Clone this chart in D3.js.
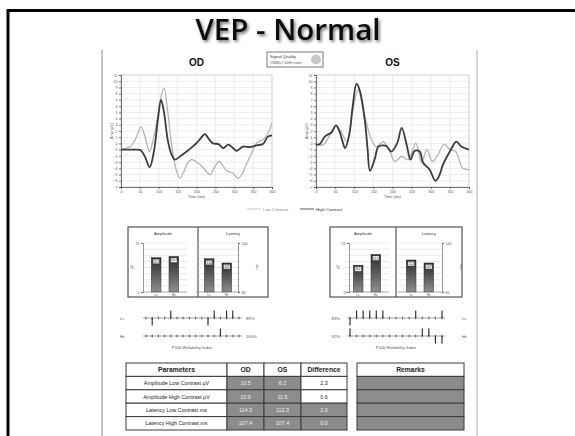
<!DOCTYPE html>
<html>
<head>
<meta charset="utf-8">
<title>VEP - Normal</title>
<style>
  body { margin: 0; background: #fff; }
  svg { display: block; font-family: "Liberation Sans", Arial, sans-serif; }
</style>
</head>
<body>
<svg width="575" height="436"></svg>
<script src="https://cdnjs.cloudflare.com/ajax/libs/d3/7.8.5/d3.min.js"></script>
<script>
// ---- data ----
// waveforms: [time ms, amplitude µV]
var odHigh = [[0,-1.0],[20,-1.0],[40,-1.0],[52,-1.1],[64,-2.2],[76,-3.8],[88,-1.0],[98,4.0],[106,7.0],[114,5.0],[124,0.5],[134,-1.8],[143,-2.6],[158,-2.0],[174,-1.3],[188,-0.6],[200,0.05],[212,0.9],[222,1.5],[234,0.6],[244,0.0],[258,-0.1],[271,-0.75],[284,-0.2],[296,-0.7],[306,-1.2],[323,-0.5],[341,-0.6],[359,-0.3],[376,-0.1],[389,1.1],[400,1.3]];
var odLow = [[0,-0.9],[25,-0.5],[40,0.9],[53,2.7],[64,1.0],[75,-1.3],[84,0.2],[95,3.5],[105,7.2],[114,8.9],[124,5.0],[134,-0.2],[146,-4.2],[156,-5.6],[166,-4.6],[176,-3.2],[187,-2.6],[198,-2.9],[209,-3.4],[222,-4.2],[236,-5.0],[248,-3.8],[260,-2.9],[270,-3.6],[280,-4.4],[297,-4.8],[310,-5.6],[322,-4.8],[332,-3.4],[346,-1.6],[359,0.05],[376,0.6],[389,1.6],[400,3.3]];
var osHigh = [[0,-0.2],[10,-0.1],[23,1.1],[41,1.8],[52,2.9],[61,2.0],[69,0.4],[76,-0.75],[87,1.4],[96,6.0],[106,9.6],[115,8.4],[128,3.5],[135,-1.0],[141,-4.4],[154,-2.4],[163,-0.5],[175,-0.3],[184,-0.4],[197,-1.3],[212,0.0],[224,2.5],[237,-0.2],[247,-2.6],[258,-1.2],[271,-1.3],[280,-3.1],[297,-4.2],[312,-6.0],[322,-5.2],[332,-3.4],[350,-1.3],[367,0.3],[380,-0.5],[400,-1.0]];
var osLow = [[0,-0.2],[19,-0.2],[37,1.4],[52,2.9],[67,1.7],[80,0.3],[97,5.6],[110,8.6],[128,4.3],[145,0.6],[158,-0.5],[176,0.3],[193,-1.3],[206,-2.9],[224,-2.1],[241,-2.6],[261,0.05],[276,-3.1],[290,-1.0],[304,-2.9],[319,-1.8],[335,-0.1],[350,-1.0],[365,-1.3],[384,-4.0],[400,-4.2]];

var timeTicks = [0, 50, 100, 150, 200, 250, 300, 350, 400];
var ampTicks = d3.range(-7, 12);

// bar panels: [Lc, Hc]
var barCats = ["Lc", "Hc"];
var odAmp = [10.5, 10.9], osAmp = [8.2, 11.5];
var odLat = [114.3, 107.4], osLat = [112.3, 107.4];
var ampDomain = [0, 15], latDomain = [60, 140];

// P100 reliability: 0 = dot, 1 = tick up, -1 = tick down
var odRelLc = [0,-1,0,0,1,0,0,0,0,0,-1,1,0,1,1,0];
var odRelHc = [0,0,0,0,0,0,0,0,0,0,0,0,1,0,0,0];
var osRelLc = [-1,1,1,1,1,1,0,0,0,0,1,0,0,0,1];
var osRelHc = [1,0,0,0,0,0,0,0,0,0,0,1,1,-1,-1];
var relPct = { odLc: "89%", odHc: "100%", osLc: "83%", osHc: "92%" };

// table
var paramNames = ["Amplitude Low Contrast  µV", "Amplitude High Contrast  µV", "Latency Low Contrast  ms", "Latency High Contrast  ms"];
var odValues = [10.5, 10.9, 114.3, 107.4];
var osValues = [8.2, 11.5, 112.3, 107.4];
var diffShaded = [false, false, true, true];

// ---- drawing ----
var svg = d3.select("svg");
var defs = svg.append("defs");

var shadow = defs.append("filter").attr("id", "shadow").attr("x", "-10%").attr("y", "-20%").attr("width", "130%").attr("height", "160%");
shadow.append("feDropShadow").attr("dx", 1.5).attr("dy", 2).attr("stdDeviation", 1.4)
  .attr("flood-color", "#000").attr("flood-opacity", 0.55);

var grad = defs.append("linearGradient").attr("id", "barGrad").attr("x1", 0).attr("y1", 0).attr("x2", 0).attr("y2", 1);
grad.append("stop").attr("offset", "0%").attr("stop-color", "#2b2b2b");
grad.append("stop").attr("offset", "100%").attr("stop-color", "#8e8e8e");

// slide frame
svg.append("path").attr("d", "M8,436 V10.5 H575").attr("fill", "none").attr("stroke", "#000").attr("stroke-width", 3);

svg.append("text").attr("x", 288).attr("y", 40).attr("text-anchor", "middle")
  .attr("font-family", "'Open Sans', 'DejaVu Sans', sans-serif").attr("font-weight", 600)
  .attr("font-size", 29.5).attr("fill", "#111").attr("filter", "url(#shadow)")
  .text("VEP - Normal");

// report page
svg.append("rect").attr("x", 103).attr("y", 50).attr("width", 374).attr("height", 400).attr("fill", "#fff");
svg.append("line").attr("x1", 102).attr("x2", 102).attr("y1", 50).attr("y2", 436).attr("stroke", "#8a8a8a").attr("stroke-width", 1);
svg.append("line").attr("x1", 477).attr("x2", 477).attr("y1", 50).attr("y2", 436).attr("stroke", "#aaa").attr("stroke-width", 1);

// signal quality box
var sq = svg.append("g");
sq.append("rect").attr("x", 267).attr("y", 52).attr("width", 56).attr("height", 15).attr("fill", "#fff").attr("stroke", "#555").attr("stroke-width", 0.8);
sq.append("text").attr("x", 270).attr("y", 57.5).attr("font-size", 4.2).attr("fill", "#333").text("Signal Quality");
sq.append("text").attr("x", 270).attr("y", 64).attr("font-size", 3.4).attr("fill", "#555").text("12Ml8y // 60Hz noise");
sq.append("circle").attr("cx", 316).attr("cy", 59.5).attr("r", 5).attr("fill", "#c8c8c8");

var y = d3.scaleLinear().domain([-7, 11]).range([187, 75]);

var line = function (x) {
  return d3.line().x(function (d) { return x(d[0]); }).y(function (d) { return y(d[1]); })
    .curve(d3.curveCatmullRom.alpha(0.5));
};

function wave(x0, x1, title, high, low) {
  var x = d3.scaleLinear().domain([0, 400]).range([x0, x1]);
  var g = svg.append("g");
  g.append("text").attr("x", (x0 + x1) / 2).attr("y", 66).attr("text-anchor", "middle")
    .attr("font-size", 10).attr("font-weight", "bold").attr("fill", "#111").text(title);

  g.append("g").selectAll("line").data(ampTicks).join("line")
    .attr("x1", x0).attr("x2", x1).attr("y1", function (d) { return y(d); }).attr("y2", function (d) { return y(d); })
    .attr("stroke", "#dcdcdc").attr("stroke-width", 0.5);
  g.append("g").selectAll("line").data(timeTicks).join("line")
    .attr("y1", 75).attr("y2", 187).attr("x1", function (d) { return x(d); }).attr("x2", function (d) { return x(d); })
    .attr("stroke", "#dcdcdc").attr("stroke-width", 0.5);
  g.append("rect").attr("x", x0).attr("y", 75).attr("width", x1 - x0).attr("height", 112)
    .attr("fill", "none").attr("stroke", "#bbb").attr("stroke-width", 0.5);

  var ya = g.append("g").attr("transform", "translate(" + x0 + ",0)")
    .call(d3.axisLeft(y).tickValues(ampTicks).tickSize(2).tickPadding(1.5));
  var xa = g.append("g").attr("transform", "translate(0,187)")
    .call(d3.axisBottom(x).tickValues(timeTicks).tickSize(2).tickPadding(1.5));
  [ya, xa].forEach(function (a) {
    a.selectAll("path, line").attr("stroke", "#444").attr("stroke-width", 0.7);
    a.selectAll("text").attr("font-size", 3.6).attr("fill", "#555");
  });
  g.append("text").attr("x", (x0 + x1) / 2).attr("y", 198).attr("text-anchor", "middle")
    .attr("font-size", 3.8).attr("fill", "#555").text("Time (ms)");
  g.append("text").attr("transform", "translate(" + (x0 - 8) + ",131) rotate(-90)").attr("text-anchor", "middle")
    .attr("font-size", 3.8).attr("fill", "#555").text("Amp (µV)");

  g.append("path").datum(low).attr("d", line(x)).attr("fill", "none").attr("stroke", "#b4b4b4").attr("stroke-width", 1.3);
  g.append("path").datum(high).attr("d", line(x)).attr("fill", "none").attr("stroke", "#3c3c3c").attr("stroke-width", 1.8);
}

wave(121, 272, "OD", odHigh, odLow);
wave(316, 469, "OS", osHigh, osLow);

// legend
var lg = svg.append("g");
lg.append("line").attr("x1", 247).attr("x2", 261).attr("y1", 209).attr("y2", 209).attr("stroke", "#b4b4b4").attr("stroke-width", 0.8);
lg.append("text").attr("x", 263).attr("y", 210.5).attr("font-size", 4.3).attr("fill", "#888").text("Low Contrast");
lg.append("line").attr("x1", 300).attr("x2", 314).attr("y1", 209).attr("y2", 209).attr("stroke", "#333").attr("stroke-width", 0.8);
lg.append("text").attr("x", 316).attr("y", 210.5).attr("font-size", 4.3).attr("fill", "#333").text("High Contrast");

// bar panels
function barPanel(bx0, bx1, amp, lat, ampAxisX, ampRange, latAxisX, latRange) {
  var g = svg.append("g");
  var mid = (bx0 + bx1) / 2;
  g.append("rect").attr("x", bx0).attr("y", 227).attr("width", bx1 - bx0).attr("height", 70)
    .attr("fill", "#fff").attr("stroke", "#444").attr("stroke-width", 1.1);
  g.append("line").attr("x1", mid).attr("x2", mid).attr("y1", 227).attr("y2", 297).attr("stroke", "#444").attr("stroke-width", 1.1);

  var panels = [
    { title: "Amplitude", vals: amp, domain: ampDomain, axisX: ampAxisX, range: ampRange, left: true, unit: "µV", cx: (bx0 + mid) / 2, fmt: d3.format(".1f") },
    { title: "Latency", vals: lat, domain: latDomain, axisX: latAxisX, range: latRange, left: false, unit: "ms", cx: (mid + bx1) / 2, fmt: d3.format(".0f") }
  ];
  panels.forEach(function (p) {
    var yy = d3.scaleLinear().domain(p.domain).range([292, 243]);
    var xx = d3.scaleBand().domain(barCats).range(p.range).paddingInner(0.45).paddingOuter(0.3);
    g.append("text").attr("x", p.cx).attr("y", 235).attr("text-anchor", "middle")
      .attr("font-size", 4).attr("fill", "#333").text(p.title);
    var gridVals = d3.range(0, 9).map(function (i) { return p.domain[0] + i * (p.domain[1] - p.domain[0]) / 8; });
    g.append("g").selectAll("line").data(gridVals).join("line")
      .attr("x1", p.range[0] - 3).attr("x2", p.range[1] + 3)
      .attr("y1", function (d) { return yy(d); }).attr("y2", function (d) { return yy(d); })
      .attr("stroke", "#d4d4d4").attr("stroke-width", 0.5);
    var ax = g.append("g").attr("transform", "translate(" + p.axisX + ",0)")
      .call((p.left ? d3.axisLeft(yy) : d3.axisRight(yy)).tickValues(p.domain).tickSize(2).tickPadding(1.5));
    ax.selectAll("path, line").attr("stroke", "#555").attr("stroke-width", 0.6);
    ax.selectAll("text").attr("font-size", 3.6).attr("fill", "#555");
    var tx = p.left ? p.axisX - 10 : p.axisX + 20;
    g.append("text").attr("transform", "translate(" + tx + ",267) rotate(-90)").attr("text-anchor", "middle")
      .attr("font-size", 3.8).attr("fill", "#555").text(p.unit);
    var bars = g.append("g").selectAll("g").data(p.vals).join("g");
    bars.append("rect")
      .attr("x", function (d, i) { return xx(barCats[i]); }).attr("width", xx.bandwidth())
      .attr("y", function (d) { return yy(d); }).attr("height", function (d) { return 292 - yy(d); })
      .attr("fill", "url(#barGrad)").attr("stroke", "#222").attr("stroke-width", 0.4);
    bars.append("rect")
      .attr("x", function (d, i) { return xx(barCats[i]) + 1.6; }).attr("width", xx.bandwidth() - 3.2)
      .attr("y", function (d) { return yy(d) + 1.5; }).attr("height", 4.5)
      .attr("fill", "#f2f2f2").attr("stroke", "#333").attr("stroke-width", 0.3);
    bars.append("text")
      .attr("x", function (d, i) { return xx(barCats[i]) + xx.bandwidth() / 2; })
      .attr("y", function (d) { return yy(d) + 5.1; }).attr("text-anchor", "middle")
      .attr("font-size", 3.2).attr("fill", "#222").text(function (d) { return p.fmt(d); });
    g.append("g").selectAll("text").data(barCats).join("text")
      .attr("x", function (d) { return xx(d) + xx.bandwidth() / 2; }).attr("y", 296).attr("text-anchor", "middle")
      .attr("font-size", 3.4).attr("fill", "#555").text(function (d) { return d; });
    g.append("line").attr("x1", p.range[0] - 3).attr("x2", p.range[1] + 3).attr("y1", 292).attr("y2", 292)
      .attr("stroke", "#777").attr("stroke-width", 0.5);
  });
}

barPanel(128, 268, odAmp, odLat, 143, [146, 184], 238, [199, 237]);
barPanel(330, 462, osAmp, osLat, 349, [348, 386], 442, [401, 439]);

// reliability index
function relRow(vals, r0, r1, yRow) {
  var xx = d3.scalePoint().domain(d3.range(vals.length)).range([r0 + 3, r1 - 3]);
  var g = svg.append("g");
  g.append("line").attr("x1", r0).attr("x2", r1).attr("y1", yRow).attr("y2", yRow).attr("stroke", "#444").attr("stroke-width", 0.5);
  g.selectAll("line.s").data(vals).join("line").attr("class", "s")
    .attr("x1", function (d, i) { return xx(i); }).attr("x2", function (d, i) { return xx(i); })
    .attr("y1", yRow - 1.3).attr("y2", yRow + 1.3).attr("stroke", "#333").attr("stroke-width", 0.8);
  g.selectAll("line.t").data(vals.map(function (v, i) { return [v, i]; }).filter(function (d) { return d[0] !== 0; }))
    .join("line").attr("class", "t")
    .attr("x1", function (d) { return xx(d[1]); }).attr("x2", function (d) { return xx(d[1]); })
    .attr("y1", yRow).attr("y2", function (d) { return yRow - d[0] * 7.5; })
    .attr("stroke", "#222").attr("stroke-width", 1.1);
}
function relText(x, yv, s, anchor) {
  svg.append("text").attr("x", x).attr("y", yv).attr("text-anchor", anchor || "start")
    .attr("font-size", 4.2).attr("fill", "#555").text(s);
}
relRow(odRelLc, 143, 242, 318);
relRow(odRelHc, 143, 242, 336);
relText(120, 319.5, "Lc"); relText(120, 337.5, "Hc");
relText(246, 319.5, relPct.odLc); relText(246, 337.5, relPct.odHc);
relText(192, 349, "P100 Reliability Index", "middle");

relRow(osRelLc, 347, 445, 318);
relRow(osRelHc, 347, 445, 336);
relText(340, 319.5, relPct.osLc, "end"); relText(340, 337.5, relPct.osHc, "end");
relText(462, 319.5, "Lc"); relText(462, 337.5, "Hc");
relText(396, 349, "P100 Reliability Index", "middle");

// parameters table
var colX = [126, 227, 264, 301, 347];
var rowY = d3.scaleBand().domain(d3.range(5)).range([363, 430]);
var tbl = svg.append("g");
var headers = ["Parameters", "OD", "OS", "Difference"];
var fmt1 = d3.format(".1f");
var cells = [];
headers.forEach(function (h, c) { cells.push({ r: 0, c: c, text: h, shade: false, head: true }); });
paramNames.forEach(function (name, i) {
  var diff = Math.abs(odValues[i] - osValues[i]);
  cells.push({ r: i + 1, c: 0, text: name, shade: false });
  cells.push({ r: i + 1, c: 1, text: fmt1(odValues[i]), shade: true });
  cells.push({ r: i + 1, c: 2, text: fmt1(osValues[i]), shade: true });
  cells.push({ r: i + 1, c: 3, text: fmt1(diff), shade: diffShaded[i] });
});
var remX = [357, 464];
d3.range(5).forEach(function (r) { cells.push({ r: r, c: -1, text: r === 0 ? "Remarks" : "", shade: r > 0, head: r === 0 }); });

tbl.selectAll("rect").data(cells).join("rect")
  .attr("x", function (d) { return d.c < 0 ? remX[0] : colX[d.c]; })
  .attr("width", function (d) { return d.c < 0 ? remX[1] - remX[0] : colX[d.c + 1] - colX[d.c]; })
  .attr("y", function (d) { return rowY(d.r); }).attr("height", rowY.bandwidth())
  .attr("fill", function (d) { return d.shade ? "#8c8c8c" : "#fff"; })
  .attr("stroke", "#3a3a3a").attr("stroke-width", 1);
tbl.selectAll("text").data(cells).join("text")
  .attr("x", function (d) { return d.c < 0 ? (remX[0] + remX[1]) / 2 : (colX[d.c] + colX[d.c + 1]) / 2; })
  .attr("y", function (d) { return rowY(d.r) + rowY.bandwidth() / 2 + (d.head ? 2.4 : 2); })
  .attr("text-anchor", "middle")
  .attr("font-size", function (d) { return d.head ? 6.8 : 5.4; })
  .attr("font-weight", function (d) { return d.head ? "bold" : "normal"; })
  .attr("fill", function (d) { return d.shade ? "#f0f0f0" : "#222"; })
  .text(function (d) { return d.text; });
</script>
</body>
</html>
